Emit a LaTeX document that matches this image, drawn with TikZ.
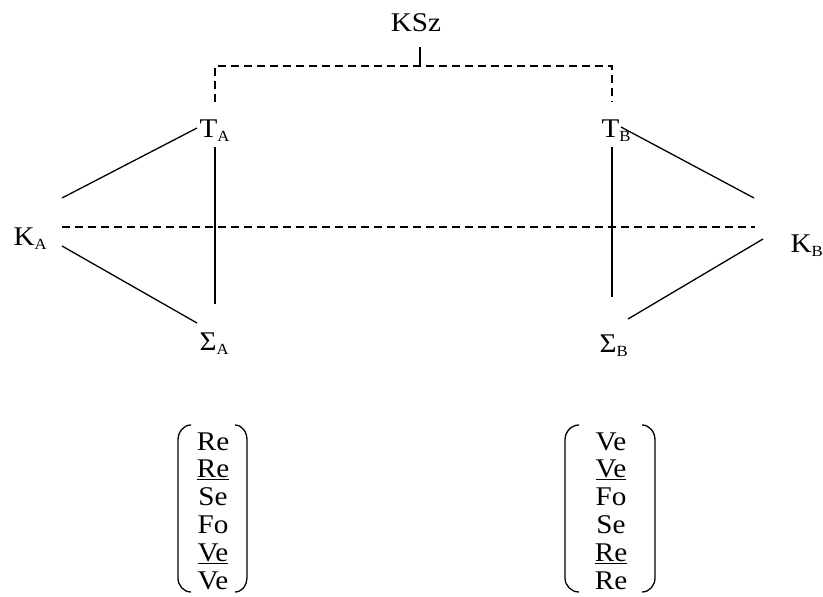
\documentclass[tikz,border=0pt]{standalone}
\usepackage{fontspec}
\setmainfont{Liberation Serif}[FakeStretch=1.08]
\newcommand\sbx[1]{\raisebox{-0.17em}{\fontsize{15.5}{18}\selectfont #1}}
\begin{document}
\begin{tikzpicture}[x=1pt,y=-1pt,line width=1.3pt,
  lbl/.style={inner sep=0pt,font=\fontsize{27}{30}\selectfont,anchor=base west},
  row/.style={inner sep=0pt,font=\fontsize{27}{30}\selectfont,anchor=base},
  dline/.style={dash pattern=on 8pt off 5pt},
  brk/.style={line width=1.3pt}]
\useasboundingbox (0,0) rectangle (823,597);
% labels
\node[row] (ksz) at (416,31) {KSz};
\node[lbl] (ta) at (199,137) {T\sbx{A}};
\node[lbl] (tb) at (601,137) {T\sbx{B}};
\node[lbl] (ka) at (13,245) {K\sbx{A}};
\node[lbl] (kb) at (790,252) {K\sbx{B}};
\node[lbl] (sa) at (199,350) {Σ\sbx{A}};
\node[lbl] (sb) at (599,352) {Σ\sbx{B}};
% coordinates
\coordinate (kszt) at (420,47);
\coordinate (kszb) at (420,66);
\coordinate (bl) at (215,102);
\coordinate (br) at (612,102);
\coordinate (tav) at (215,147);
\coordinate (sav) at (215,304);
\coordinate (tbv) at (612,147);
\coordinate (sbv) at (612,297);
\coordinate (ka1) at (62,198);
\coordinate (ta1) at (197,128);
\coordinate (ka2) at (62,246);
\coordinate (sa1) at (197,323);
\coordinate (tb1) at (621,127);
\coordinate (kb1) at (754,198);
\coordinate (sb1) at (628,319);
\coordinate (kb2) at (763,239);
\coordinate (kah) at (62,227);
\coordinate (kbh) at (755,227);
% connectors
\draw[dline] (bl) -- (bl |- kszb) -- (br |- kszb) -- (br);
\draw (kszt) -- (kszb);
\draw (tav) -- (sav);
\draw (tbv) -- (sbv);
\draw (ka1) -- (ta1);
\draw (ka2) -- (sa1);
\draw (tb1) -- (kb1);
\draw (sb1) -- (kb2);
\draw[dline] (kah) -- (kbh);
% left column
\node[row] (a1) at (213,450) {Re};
\node[row] (a2) at (213,477.8) {\underline{Re}};
\node[row] (a3) at (213,505.6) {Se};
\node[row] (a4) at (213,533.4) {Fo};
\node[row] (a5) at (213,561.2) {\underline{Ve}};
\node[row] (a6) at (213,589) {Ve};
% right column
\node[row] (b1) at (611,450) {Ve};
\node[row] (b2) at (611,477.8) {\underline{Ve}};
\node[row] (b3) at (611,505.6) {Fo};
\node[row] (b4) at (611,533.4) {Se};
\node[row] (b5) at (611,561.2) {\underline{Re}};
\node[row] (b6) at (611,589) {Re};
% brackets
\draw[brk] (191,425) to[out=180,in=90] (178,440) -- (178,578) to[out=-90,in=180] (191,592);
\draw[brk] (235,425) to[out=0,in=90] (247,440) -- (247,578) to[out=-90,in=0] (235,592);
\draw[brk] (579,425) to[out=180,in=90] (565,440) -- (565,578) to[out=-90,in=180] (579,592);
\draw[brk] (642,425) to[out=0,in=90] (655,440) -- (655,578) to[out=-90,in=0] (642,592);
\end{tikzpicture}
\end{document}
